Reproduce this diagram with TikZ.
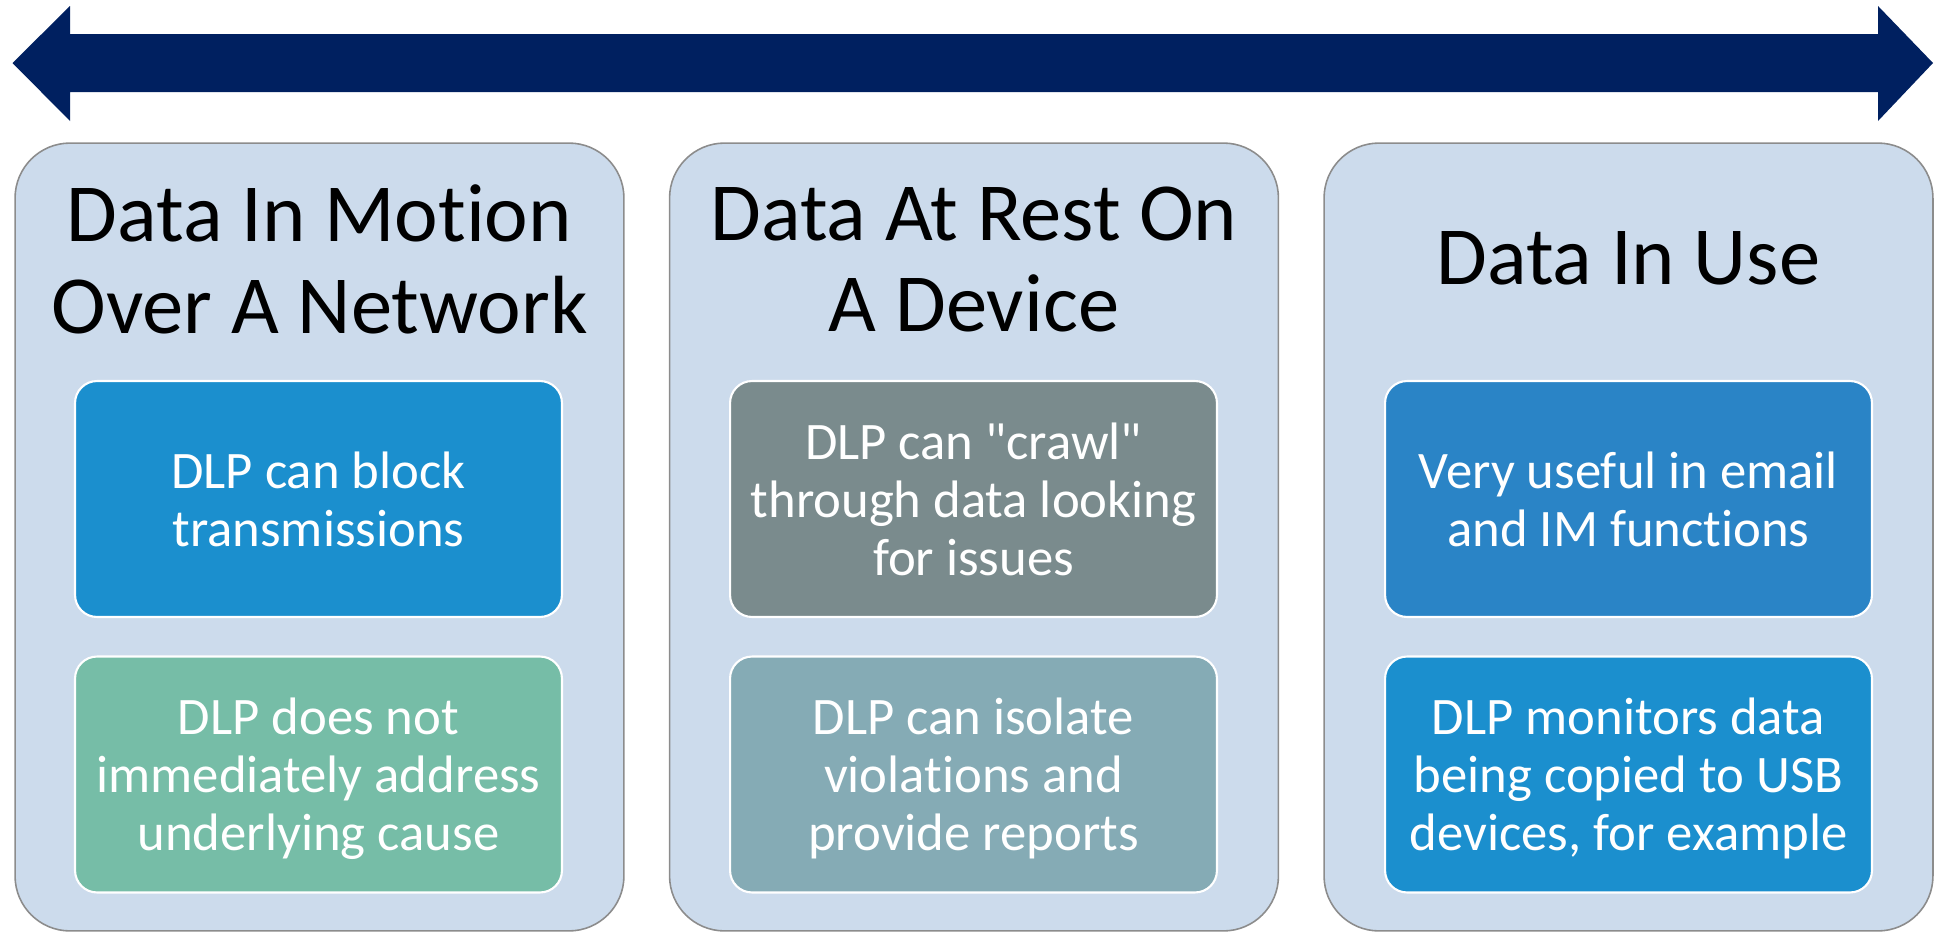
\documentclass[tikz,border=0pt]{standalone}
\usepackage{fontspec}
\setmainfont{Carlito}[Ligatures={TeXOff,CommonOff}]
\definecolor{navy}{HTML}{002060}
\definecolor{panelfill}{HTML}{CCDBEC}
\definecolor{panelline}{HTML}{8C8C8C}
\definecolor{cblue}{HTML}{1B8FCE}
\definecolor{cgreen}{HTML}{76BDA7}
\definecolor{cgray}{HTML}{7A8B8D}
\definecolor{cteal}{HTML}{85ABB5}
\definecolor{cmid}{HTML}{2A84C6}
\tikzset{
  panel/.style={draw=panelline, line width=0.9pt, fill=panelfill, rounded corners=1.1cm,
    minimum width=12.18cm, minimum height=15.76cm, inner sep=0pt},
  infobox/.style={draw=white, line width=1.2pt, rounded corners=0.44cm,
    minimum width=9.74cm, minimum height=4.72cm, inner sep=0pt},
  ptitle/.style={align=center, text=black, font=\fontsize{47}{52}\selectfont, inner sep=0pt},
  btext/.style={align=center, text=white, font=\fontsize{30}{33}\selectfont, inner sep=0pt, text depth=0pt}
}
\begin{document}
\begin{tikzpicture}[x=0.02cm, y=-0.02cm]
\useasboundingbox (0,0) rectangle (1934,933);
% double arrow
\fill[navy] (12.5,63) -- (70,6) -- (70,34) -- (1878,34) -- (1878,6) -- (1933,63)
  -- (1878,121) -- (1878,92) -- (70,92) -- (70,121) -- cycle;
% panels
\node[panel] (p1) at (319.5,537) {};
\node[panel] (p2) at (974,537) {};
\node[panel] (p3) at (1628.5,537) {};
% titles
\node[ptitle] (t1) at (319.5,259.5) {Data In Motion\\Over A Network};
\node[ptitle] (t2) at (974,259.5) {Data At Rest On\\A Device};
\node[ptitle] (t3) at (1628.5,258.5) {Data In Use};
% boxes
\node[infobox, fill=cblue] (b11) at (318.5,499) {};
\node[infobox, fill=cgreen] (b12) at (318.5,774.5) {};
\node[infobox, fill=cgray] (b21) at (973.5,499) {};
\node[infobox, fill=cteal] (b22) at (973.5,774.5) {};
\node[infobox, fill=cmid] (b31) at (1628.5,499) {};
\node[infobox, fill=cblue] (b32) at (1628.5,774.5) {};
% box texts
\node[btext] (x11) at (b11.center) {DLP can block\\transmissions};
\node[btext] (x12) at (b12.center) {DLP does not\\immediately address\\underlying cause};
\node[btext] (x21) at (b21.center) {DLP can "crawl"\\through data looking\\for issues};
\node[btext] (x22) at (b22.center) {DLP can isolate\\violations and\\provide reports};
\node[btext] (x31) at (b31.center) {Very useful in email\\and IM functions};
\node[btext] (x32) at (b32.center) {DLP monitors data\\being copied to USB\\devices, for example};
\end{tikzpicture}
\end{document}
